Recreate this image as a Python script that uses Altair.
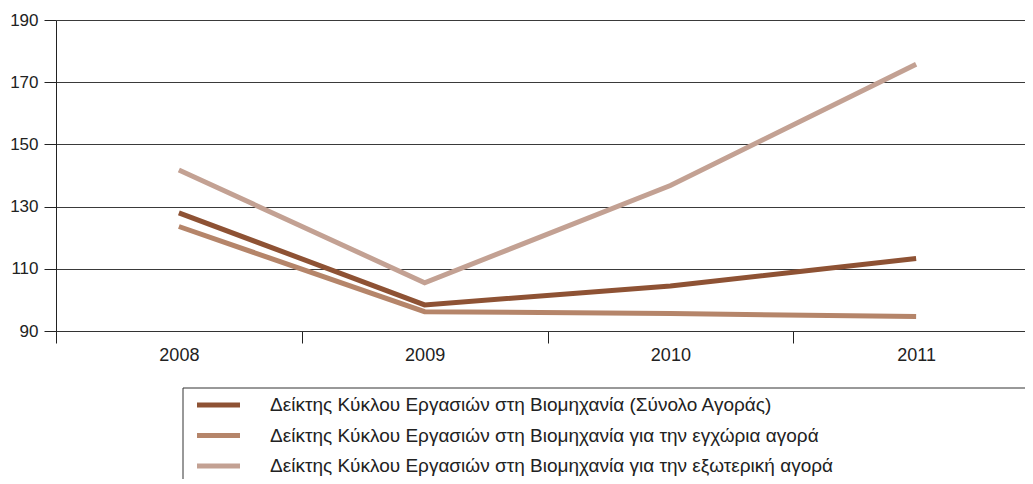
import altair as alt
import pandas as pd

years = ["2008", "2009", "2010", "2011"]
series_names = [
    "Δείκτης Κύκλου Εργασιών στη Βιομηχανία (Σύνολο Αγοράς)",
    "Δείκτης Κύκλου Εργασιών στη Βιομηχανία για την εγχώρια αγορά",
    "Δείκτης Κύκλου Εργασιών στη Βιομηχανία για την εξωτερική αγορά",
]
total = [128.0, 98.4, 104.5, 113.3]
domestic = [123.6, 96.2, 95.6, 94.7]
external = [141.8, 105.5, 136.8, 175.8]
colors = ["#8e5234", "#b5856a", "#c3a193"]
y_ticks = [90, 110, 130, 150, 170, 190]

FONT = "Liberation Sans"

rows = []
for name, vals in zip(series_names, [total, domestic, external]):
    for yr, v in zip(years, vals):
        rows.append({"year": yr, "series": name, "value": v})
df = pd.DataFrame(rows)
leg = pd.DataFrame({"series": series_names})

color = alt.Color("series:N", scale=alt.Scale(domain=series_names, range=colors), legend=None)

lines = alt.Chart(df).mark_line(strokeWidth=5, strokeCap="butt").encode(
    x=alt.X("year:O", bandPosition=0.5,
            scale=alt.Scale(type="band", domain=years, range=[0, 983], paddingInner=0, paddingOuter=0),
            axis=alt.Axis(title=None, labelAngle=0, tickBand="extent", tickSize=12, tickColor="#222",
                          domainColor="#333", labelFont=FONT, labelFontSize=18, labelColor="#222",
                          labelPadding=3, grid=False)),
    y=alt.Y("value:Q", scale=alt.Scale(domain=[90, 190], nice=False, zero=False),
            axis=alt.Axis(title=None, values=y_ticks, grid=True, gridColor="#3a3a3a", gridWidth=1.2,
                          tickSize=12, tickColor="#222", domainColor="#222", labelFont=FONT,
                          labelFontSize=17, labelColor="#222", labelPadding=6)),
    color=color,
    detail="series:N",
)

box = alt.Chart(pd.DataFrame({"a": [0]})).mark_rect(filled=False, stroke="#333", strokeWidth=1).encode(
    x=alt.value(127), x2=alt.value(1300), y=alt.value(368), y2=alt.value(700)
)

leg_y = alt.Y("series:N", scale=alt.Scale(type="point", domain=series_names, range=[385, 446], padding=0),
              axis=None)

leg_rules = alt.Chart(leg).mark_rule(strokeWidth=5).encode(
    x=alt.value(141), x2=alt.value(184), y=leg_y, color=color
)
leg_text = alt.Chart(leg).mark_text(align="left", baseline="middle", fontSize=19, font=FONT,
                                    color="#222").encode(
    x=alt.value(214), y=leg_y, text="series:N"
)

chart = alt.layer(lines, box, leg_rules, leg_text).resolve_scale(y="independent").properties(
    width=969, height=311,
    autosize=alt.AutoSizeParams(type="none"),
    padding={"left": 48, "top": 12, "right": 0, "bottom": 148},
).configure_view(stroke=None)

chart.save("out.html", embed_options={"renderer": "svg", "actions": False})
